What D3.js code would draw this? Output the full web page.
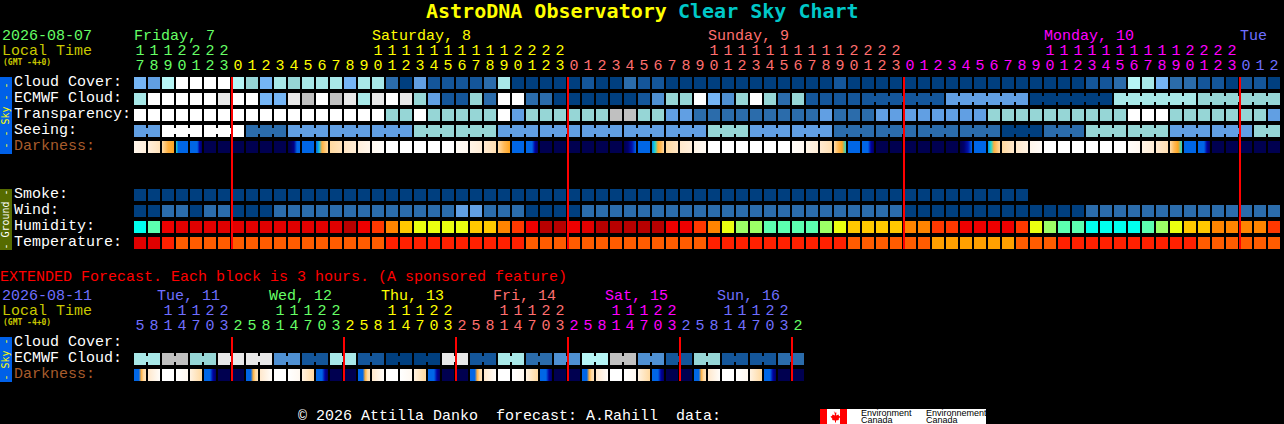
<!DOCTYPE html>
<html>

<head>
    <meta charset="utf-8">
    <script src="https://d3js.org/d3.v7.min.js"></script>
    <style>
        body { margin: 0; background: #000; }
        svg { display: block; }
        text { font-family: "Liberation Mono", monospace; font-size: 15px; white-space: pre; }
        .title { font-family: "DejaVu Sans Mono", monospace; font-size: 20px; font-weight: bold; }
        .small { font-family: "DejaVu Sans Mono", monospace; font-size: 8px; font-weight: bold; }
        .tab { font-family: "DejaVu Sans Mono", monospace; font-size: 10px; text-anchor: middle; }
        .logo { font-family: "Liberation Sans", sans-serif; font-size: 9px; fill: #000; }
    </style>
</head>

<body>
    <div id="chart"></div>
    <script>
        const width = 1284
        const height = 424

        // main chart, one block per hour. Values are colour levels
        const hours = [17,18,19,20,21,22,23,
            0,1,2,3,4,5,6,7,8,9,10,11,12,13,14,15,16,17,18,19,20,21,22,23,
            0,1,2,3,4,5,6,7,8,9,10,11,12,13,14,15,16,17,18,19,20,21,22,23,
            0,1,2,3,4,5,6,7,8,9,10,11,12,13,14,15,16,17,18,19,20,21,22,23,
            0,1,2]
        const dayNames = ["Friday, 7", "Saturday, 8", "Sunday, 9", "Monday, 10", "Tue"]
        const dayLabelColumns = [0, 17, 41, 65, 79]
        const dayStartColumns = [0, 7, 31, 55, 79]
        const dayColors = ["#66ff66", "#ffff00", "#ff6f6f", "#ff00ff", "#6f6fff"]

        const cloudCover = [5,4,8,9,9,9,9,8,6,5,
            7,6,7,7,7,5,7,7,2,0,
            4,1,1,1,1,2,7,0,0,0,
            0,0,1,0,0,2,1,1,0,0,
            0,0,0,0,0,0,0,0,0,0,
            1,0,0,0,0,0,0,0,0,0,
            0,0,0,0,0,0,0,0,1,1,
            2,8,7,5,2,2,1,1,0,1,
            1,0]
        const ecmwfCloud = [7,9,9,9,9,9,10,9,9,5,
            5,10,11,9,11,10,7,10,9,10,
            6,4,1,1,6,2,9,9,2,2,
            0,0,0,0,0,0,1,3,6,6,
            9,5,3,6,9,6,2,6,1,1,
            1,1,1,1,1,1,1,1,4,4,
            4,4,4,4,0,0,0,0,0,0,
            7,7,7,7,7,7,6,6,6,6,
            6,6]
        const transparency = [9,9,9,9,9,9,9,9,9,9,
            9,9,9,9,9,9,9,9,6,6,
            9,6,6,6,6,6,9,4,6,6,
            6,6,6,6,11,11,6,6,4,4,
            2,2,2,2,2,2,2,2,2,4,
            2,2,2,4,4,4,4,4,4,4,
            4,6,6,6,6,6,6,6,6,6,
            6,9,9,9,6,6,6,6,6,6,
            6,4]
        const seeing = [4,4,9,9,9,9,9,9,2,2,
            2,4,4,4,4,4,4,4,4,4,
            6,6,6,6,6,6,4,4,4,4,
            4,4,4,4,4,4,4,4,4,4,
            4,6,6,6,4,4,4,4,4,4,
            2,2,2,2,2,2,2,2,2,2,
            2,2,0,0,0,2,2,2,6,6,
            6,6,6,6,4,4,4,4,4,4,
            6,6]
        const smoke = [0,0,0,0,0,0,0,0,0,0,
            0,0,0,0,0,0,0,0,0,0,
            0,0,0,0,0,0,0,0,0,0,
            0,0,0,0,0,0,0,0,0,0,
            0,0,0,0,0,0,0,0,0,0,
            0,0,0,0,0,0,0,0,0,0,
            0,0,0,0]
        const wind = [0,0,2,2,0,2,2,0,0,0,
            2,2,2,2,2,2,2,2,2,2,
            2,2,2,4,4,2,2,2,0,0,
            0,0,2,2,2,2,2,2,2,2,
            2,2,2,2,2,2,2,2,2,2,
            2,2,2,2,2,0,0,0,0,0,
            0,0,0,0,0,0,0,0,2,2,
            2,2,2,2,2,2,2,2,2,2,
            2,2]
        const humidity = [0,1,7,8,8,8,8,8,8,8,
            8,8,8,8,8,9,7,6,5,4,
            3,3,3,3,4,4,5,6,7,9,
            9,7,8,9,9,9,9,9,7,7,
            6,5,3,2,2,1,1,1,1,2,
            3,4,4,4,4,5,5,6,6,7,
            7,7,7,6,3,2,1,1,0,0,
            0,0,1,2,3,4,4,5,5,5,
            5,6]
        const temperature = [0,0,1,2,2,2,2,2,2,2,
            2,2,2,2,2,2,2,2,1,1,
            1,1,1,1,1,1,1,1,2,2,
            2,2,2,2,2,2,2,2,2,2,
            2,1,1,1,1,1,1,1,1,1,
            1,2,2,2,2,2,2,3,3,3,
            3,3,3,2,2,2,1,1,1,1,
            1,1,1,1,1,1,2,2,2,2,
            2,2]

        // darkness blocks fade, so each block lists what it shows from left to right
        const W = [0], N = [100], B = [50]
        const darkness = [[8,14],[14,24],[28,38,42],[45,50,50,50,50,50],[50,50,50,52,78,95],N,N,N,N,N,
            N,[100,95,85,60,50],B,[50,46,38,34,30],[30,24],[22,16],[14,8],[6,2],W,W,
            W,W,W,[4,6],[10,16],[18,26],[28,36,42],B,[50,50,55,78,95],N,
            N,N,N,N,N,[100,92,75,52],B,[48,45,40,36,30],[30,22],[20,14],
            [10,5],W,W,W,W,W,W,[3,6],[10,16],[18,26],
            [28,36,42,45],B,[50,50,55,78,95],N,N,N,N,N,N,[100,92,75,52],
            B,[48,45,38,34,30],[30,20],[20,12],[8,3],W,W,W,W,W,
            W,[2,6],[10,16],[18,26],[28,36,42,45],B,[50,50,55,78,95],N,N,N,
            N,N]

        // extended forecast, each column is 3 hours
        const extHours = [5,8,11,14,17,20,23,
            2,5,8,11,14,17,20,23,
            2,5,8,11,14,17,20,23,
            2,5,8,11,14,17,20,23,
            2,5,8,11,14,17,20,23,
            2,5,8,11,14,17,20,23,
            2]
        const extDate = "2026-08-11"
        const extDayNames = ["Tue, 11", "Wed, 12", "Thu, 13", "Fri, 14", "Sat, 15", "Sun, 16"]
        const extDayLabelColumns = [1, 9, 17, 25, 33, 41]
        const extDayStartColumns = [0, 7, 15, 23, 31, 39, 47]
        const extDayColors = ["#6f6fff", "#66ff66", "#ffff00", "#ff6f6f", "#ff00ff", "#6f6fff", "#66ff66"]
        const extMidnights = [7, 15, 23, 31, 39, 47]
        const extEcmwf = [7,7,11,11,6,6,10,10,10,10,3,3,1,1,7,7,1,1,0,0,
            0,0,10,10,1,1,7,7,2,2,3,3,8,8,11,11,3,3,1,1,
            6,6,1,1,1,1,2,2]
        const A = [50,50,50,38,30,24], C = [20,2], D = [0,6], E = [12,30], F = [50,50,50,78,95]
        const extDarkness = [A,C,W,D,E,F,N,N,
            A,C,W,D,E,F,N,N,
            A,C,W,D,E,F,N,N,
            A,C,W,D,E,F,N,N,
            A,C,W,D,E,F,N,N,
            A,C,W,D,E,F,N,N]

        const skyColors = ["#003f7f", "#14569a", "#2b6cab", "#4f90d2", "#619fe3", "#75b5f5",
            "#96d6d6", "#a8e8e8", "#b6f6f6", "#ffffff", "#e8e8e8", "#c0c0c0"]
        const humidityColors = ["#00ffee", "#5cffb0", "#9cff66", "#eaff10", "#ffc800", "#ff8400",
            "#ff3800", "#ee0000", "#e00000", "#b80000"]
        const temperatureColors = ["#e00000", "#ff2000", "#ff5c00", "#ffa000"]

        const darkColor = d3.scaleLinear()
            .domain([0, 10, 20, 30, 38, 42, 45, 47, 50, 60, 78, 100])
            .range(["#ffffff", "#fff4e6", "#ffe8cc", "#ffd9a0", "#ffb040", "#ffa520", "#20d8d0", "#00a0f0",
                "#0066e6", "#0066e6", "#0000a0", "#000050"])

        const svg = d3.select("#chart").append("svg")
            .attr("width", width)
            .attr("height", height)
        const defs = svg.append("defs")

        svg.append("rect").attr("width", width).attr("height", height).attr("fill", "#000")

        const x = d3.scaleBand()
            .domain(d3.range(hours.length))
            .range([134, 134 + 14 * hours.length - 2])
            .paddingInner(2 / 14)
        const extX = d3.scaleBand()
            .domain(d3.range(extHours.length))
            .range([134, 134 + 14 * extHours.length - 2])
            .paddingInner(2 / 14)

        const skyRows = ["Cloud Cover:", "ECMWF Cloud:", "Transparency:", "Seeing:", "Darkness:"]
        const groundRows = ["Smoke:", "Wind:", "Humidity:", "Temperature:"]
        const extRows = ["Cloud Cover:", "ECMWF Cloud:", "Darkness:"]
        const skyY = d3.scaleBand().domain(skyRows).range([77, 153]).paddingInner(4 / 16)
        const groundY = d3.scaleBand().domain(groundRows).range([189, 249]).paddingInner(4 / 16)
        const extY = d3.scaleBand().domain(extRows).range([337, 381]).paddingInner(4 / 16)

        const rowLabels = (scale) => {
            svg.append("g").selectAll("text")
                .data(scale.domain())
                .enter()
                .append("text")
                .attr("x", 14)
                .attr("y", d => scale(d) + 9)
                .attr("fill", d => d === "Darkness:" ? "#a85c2c" : "#fff")
                .text(d => d)
        }

        // linked says which blocks run on into the next one
        const drawRow = (values, colors, scale, y, linked) => {
            const g = svg.append("g").attr("shape-rendering", "crispEdges")
            g.selectAll("rect.cell")
                .data(values)
                .enter()
                .append("rect")
                .attr("class", "cell")
                .attr("x", (d, i) => scale(i))
                .attr("y", y)
                .attr("width", scale.bandwidth())
                .attr("height", 12)
                .attr("fill", d => colors[d])
            if (linked) {
                const links = d3.range(values.length - 1).filter(linked)
                g.selectAll("rect.link")
                    .data(links)
                    .enter()
                    .append("rect")
                    .attr("class", "link")
                    .attr("x", i => scale(i) + scale.bandwidth())
                    .attr("y", y + 3)
                    .attr("width", scale.step() - scale.bandwidth())
                    .attr("height", 6)
                    .attr("fill", i => colors[values[i]])
            }
        }

        const drawDarkness = (values, scale, y, prefix) => {
            const g = svg.append("g").attr("shape-rendering", "crispEdges")
            values.forEach((stops, i) => {
                if (stops.length > 1) {
                    const gradient = defs.append("linearGradient").attr("id", prefix + i)
                    stops.forEach((s, j) => {
                        gradient.append("stop")
                            .attr("offset", j / (stops.length - 1))
                            .attr("stop-color", darkColor(s))
                    })
                }
            })
            g.selectAll("rect")
                .data(values)
                .enter()
                .append("rect")
                .attr("x", (d, i) => scale(i))
                .attr("y", y)
                .attr("width", scale.bandwidth())
                .attr("height", 12)
                .attr("fill", (d, i) => d.length > 1 ? `url(#${prefix}${i})` : darkColor(d[0]))
        }

        const hourLabels = (values, scale, starts, colors, tensY, unitsY) => {
            const colorOf = i => colors[d3.bisectRight(starts, i) - 1]
            const g = svg.append("g").attr("text-anchor", "middle")
            g.selectAll("text.units")
                .data(values)
                .enter()
                .append("text")
                .attr("class", "units")
                .attr("x", (d, i) => scale(i) + 6)
                .attr("y", unitsY)
                .attr("fill", (d, i) => colorOf(i))
                .text(d => d % 10)
            values.forEach((d, i) => {
                if (d >= 10) {
                    g.append("text")
                        .attr("x", scale(i) + 6)
                        .attr("y", tensY)
                        .attr("fill", colorOf(i))
                        .text(Math.floor(d / 10))
                }
            })
        }

        const sideTab = (top, bottom, color, textColor, label) => {
            svg.append("rect")
                .attr("x", 0).attr("y", top)
                .attr("width", 12).attr("height", bottom - top)
                .attr("fill", color)
            svg.append("text")
                .attr("class", "tab")
                .attr("transform", `translate(9,${(top + bottom) / 2}) rotate(-90)`)
                .attr("fill", textColor)
                .text(label)
        }

        const addText = (str, tx, ty, color, cls) => {
            return svg.append("text")
                .attr("x", tx).attr("y", ty)
                .attr("fill", color)
                .attr("class", cls || null)
                .text(str)
        }

        // title
        addText("AstroDNA Observatory", 426, 18, "#ffff00", "title")
        addText("Clear Sky Chart", 678, 18, "#00c8c8", "title")

        // main chart header
        addText("2026-08-07", 2, 40, "#66ff66")
        addText("Local Time", 2, 55, "#c8c800")
        addText("(GMT -4+0)", 3, 65, "#c8c800", "small")
        dayNames.forEach((d, i) => addText(d, x(dayLabelColumns[i]), 40, dayColors[i]))
        hourLabels(hours, x, dayStartColumns, dayColors, 55, 70)

        // main chart rows
        rowLabels(skyY)
        rowLabels(groundY)
        drawRow(cloudCover, skyColors, x, skyY("Cloud Cover:"))
        drawRow(ecmwfCloud, skyColors, x, skyY("ECMWF Cloud:"), i => i >= 52 && i % 6 !== 3)
        drawRow(transparency, skyColors, x, skyY("Transparency:"))
        drawRow(seeing, skyColors, x, skyY("Seeing:"), i => i % 3 !== 1)
        drawDarkness(darkness, x, skyY("Darkness:"), "dark")
        drawRow(smoke, skyColors, x, groundY("Smoke:"))
        drawRow(wind, skyColors, x, groundY("Wind:"))
        drawRow(humidity, humidityColors, x, groundY("Humidity:"))
        drawRow(temperature, temperatureColors, x, groundY("Temperature:"))
        sideTab(77, 154, "#0060e8", "#ffff00", "- - Sky - -")
        sideTab(189, 250, "#566b00", "#ffffff", "- Ground -")

        // midnight lines
        svg.append("g").attr("shape-rendering", "crispEdges").selectAll("rect")
            .data(dayStartColumns.slice(1))
            .enter()
            .append("rect")
            .attr("x", d => x(d) - 1)
            .attr("y", 77)
            .attr("width", 2)
            .attr("height", 172)
            .attr("fill", "#ff0000")

        // extended forecast
        addText("EXTENDED Forecast. Each block is 3 hours. (A sponsored feature)", 0, 281, "#ff0000")
        addText(extDate, 2, 300, "#6f6fff")
        addText("Local Time", 2, 315, "#c8c800")
        addText("(GMT -4+0)", 3, 325, "#c8c800", "small")
        extDayNames.forEach((d, i) => addText(d, extX(extDayLabelColumns[i]) + 9, 300, extDayColors[i]))
        hourLabels(extHours, extX, extDayStartColumns, extDayColors, 315, 330)
        rowLabels(extY)
        drawRow(extEcmwf, skyColors, extX, extY("ECMWF Cloud:"), i => i % 2 === 0)
        drawDarkness(extDarkness, extX, extY("Darkness:"), "extdark")
        sideTab(337, 382, "#0060e8", "#ffff00", "- Sky -")

        svg.append("g").attr("shape-rendering", "crispEdges").selectAll("rect")
            .data(extMidnights)
            .enter()
            .append("rect")
            .attr("x", d => extX(d) - 1)
            .attr("y", 337)
            .attr("width", 2)
            .attr("height", 44)
            .attr("fill", "#ff0000")

        // footer and Environment Canada logo
        addText("© 2026 Attilla Danko  forecast: A.Rahill  data:", 298, 420, "#fff")
        const logo = svg.append("g").attr("transform", "translate(820,409)")
        logo.append("rect").attr("width", 166).attr("height", 15).attr("fill", "#fff")
        logo.append("rect").attr("width", 7).attr("height", 15).attr("fill", "#ff0000")
        logo.append("rect").attr("x", 20).attr("width", 7).attr("height", 15).attr("fill", "#ff0000")
        logo.append("path")
            .attr("d", "M13.5 2l1.5 2 1.5-.5-.5 3 2.5-1 .5 1.5 1.5.5-2 2.5.5 1-3 .5v2h-1v-2l-3-.5.5-1-2-2.5 1.5-.5.5-1.5 2.5 1-.5-3 1.5.5z")
            .attr("fill", "#ff0000")
        logo.append("text").attr("class", "logo").attr("x", 41).attr("y", 7).text("Environment")
        logo.append("text").attr("class", "logo").attr("x", 41).attr("y", 14).text("Canada")
        logo.append("text").attr("class", "logo").attr("x", 106).attr("y", 7).text("Environnement")
        logo.append("text").attr("class", "logo").attr("x", 106).attr("y", 14).text("Canada")
    </script>
</body>

</html>
